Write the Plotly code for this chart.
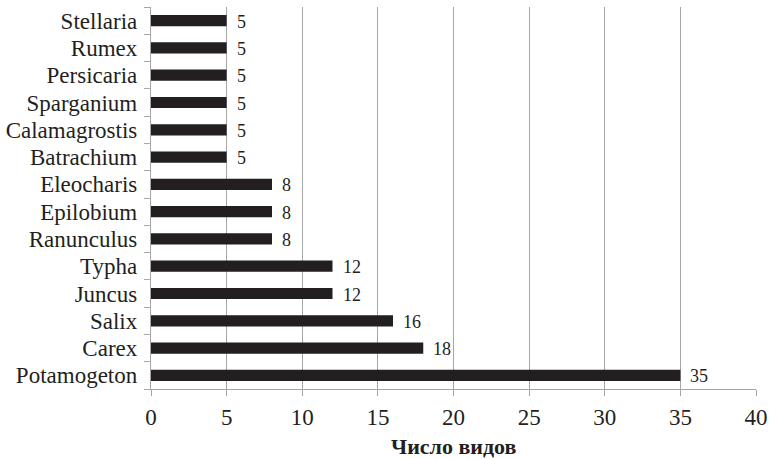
import plotly.graph_objects as go

# Genera ordered bottom-to-top as they appear on the y axis
genera = ["Potamogeton", "Carex", "Salix", "Juncus", "Typha", "Ranunculus",
          "Epilobium", "Eleocharis", "Batrachium", "Calamagrostis",
          "Sparganium", "Persicaria", "Rumex", "Stellaria"]
species_count = [35, 18, 16, 12, 12, 8, 8, 8, 5, 5, 5, 5, 5, 5]
x_ticks = [0, 5, 10, 15, 20, 25, 30, 35, 40]

serif = "Liberation Serif, Times New Roman, serif"
bar_color = "#231f20"
grid_color = "#a6a6a6"

fig = go.Figure(go.Bar(
    x=species_count,
    y=genera,
    orientation="h",
    marker=dict(color=bar_color, line=dict(width=0)),
    width=0.41,
    hoverinfo="x+y",
))

# value labels just to the right of each bar
for g, v in zip(genera, species_count):
    fig.add_annotation(
        x=v, y=g, text=str(v), showarrow=False,
        xanchor="left", yanchor="middle", xshift=8, yshift=-1,
        font=dict(family=serif, size=18, color="#231f20"),
    )

# axis title placed below the tick labels
fig.add_annotation(
    x=0.5, xref="paper", y=-0.112, yref="paper", yanchor="top",
    text="<b>Число видов</b>", showarrow=False,
    font=dict(family=serif, size=22, color="#231f20"),
)

fig.update_layout(
    width=769, height=459,
    margin=dict(l=151, r=13, t=7, b=70),
    paper_bgcolor="white", plot_bgcolor="white",
    showlegend=False,
    font=dict(family=serif, color="#231f20"),
    xaxis=dict(
        range=[0, 40],
        tickvals=x_ticks,
        ticktext=[str(t) for t in x_ticks],
        showgrid=True, gridcolor=grid_color, gridwidth=1.3,
        showline=True, linecolor=grid_color, linewidth=1.3,
        ticks="outside", ticklen=6, tickcolor=grid_color, tickwidth=1.3,
        ticklabelstandoff=1,
        tickfont=dict(family=serif, size=23, color="#231f20"),
        zeroline=False,
        automargin=False,
    ),
    yaxis=dict(
        categoryorder="array", categoryarray=genera,
        tickmode="array", tickvals=genera, ticktext=genera,
        showgrid=False,
        showline=True, linecolor=grid_color, linewidth=1.3,
        ticks="outside", ticklen=6, tickcolor=grid_color, tickwidth=1.3,
        tickson="boundaries",
        ticklabelstandoff=8,
        tickfont=dict(family=serif, size=23, color="#231f20"),
        zeroline=False,
        automargin=False,
    ),
)

fig.write_html("out.html")
